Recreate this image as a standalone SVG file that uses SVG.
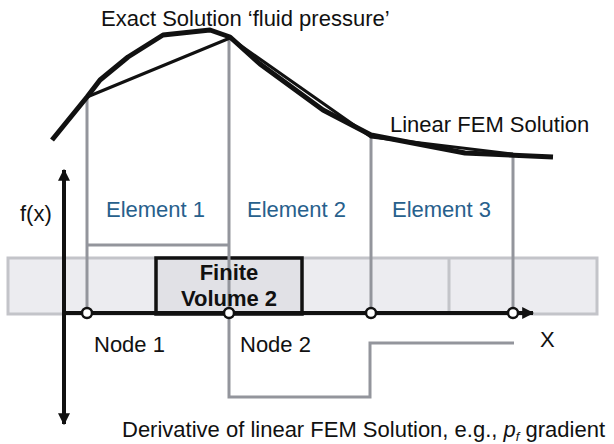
<svg xmlns="http://www.w3.org/2000/svg" width="614" height="444" viewBox="0 0 614 444">
<defs>
<style>
text{font-family:"Liberation Sans",Arial,sans-serif;fill:#111}
.lbl{font-size:22px}
.el{font-size:22px;fill:#27608c}
.fv{font-size:22px;font-weight:bold;text-anchor:middle}
.grid{fill:none;stroke:#93959c;stroke-width:3}
.band{fill:#ececf0;stroke:#c3c4c9;stroke-width:3}
.node{fill:#fff;stroke:#111;stroke-width:2.5}
.axis{stroke:#111;stroke-width:4;fill:none}
</style>
<marker id="ah" viewBox="0 0 10 10" refX="9" refY="5" markerWidth="3" markerHeight="3" markerUnits="strokeWidth" orient="auto">
<path d="M0,0L10,5L0,10z" fill="#111"/>
</marker>
</defs>
<g id="band">
<rect class="band" x="8" y="258" width="589" height="56"/>
<line x1="449" y1="258" x2="449" y2="314" stroke="#c3c4c9" stroke-width="3"/>
</g>
<g id="finite-volume-2">
<rect x="156" y="258" width="146" height="56" fill="#e1e1e6" stroke="#111" stroke-width="3.5"/>
</g>
<g id="connectors">
<path class="grid" d="M87,97V313M87,245H229M229,38V397H370V343H514M371,137V313M513,153V313"/>
<path d="M52,140L87,97L100,80L128,57L163,35L210,30L230,37L260,64L323,110L371,135L465,153L553,157" fill="none" stroke="#111" stroke-width="5" stroke-linejoin="round"/>
<path d="M87,97L230,38L371,137L513,154" fill="none" stroke="#111" stroke-width="3" stroke-linejoin="round"/>
<line class="axis" x1="64" y1="313" x2="533" y2="313" marker-end="url(#ah)"/>
<line class="axis" x1="64" y1="330" x2="64" y2="170" marker-end="url(#ah)"/>
<line class="axis" x1="64" y1="300" x2="64" y2="424" marker-end="url(#ah)"/>
</g>
<g id="node-1"><circle class="node" cx="87" cy="313" r="5"/><text class="lbl" x="94" y="352">Node 1</text></g>
<g id="node-2"><circle class="node" cx="229" cy="313" r="5"/><text class="lbl" x="240" y="352">Node 2</text></g>
<g id="node-3"><circle class="node" cx="371" cy="313" r="5"/></g>
<g id="node-4"><circle class="node" cx="513" cy="313" r="5"/></g>
<g id="fv-label"><text class="fv" x="229" y="280">Finite</text><text class="fv" x="229" y="306">Volume 2</text></g>
<g id="element-1"><text class="el" x="106" y="217">Element 1</text></g>
<g id="element-2"><text class="el" x="247" y="217">Element 2</text></g>
<g id="element-3"><text class="el" x="392" y="217">Element 3</text></g>
<g id="labels">
<text class="lbl" x="101" y="26">Exact Solution ‘fluid pressure’</text>
<text class="lbl" x="390" y="132">Linear FEM Solution</text>
<text class="lbl" x="20" y="221">f(x)</text>
<text class="lbl" x="540" y="347">X</text>
<text class="lbl" x="122" y="437">Derivative of linear FEM Solution, e.g., <tspan font-style="italic">p</tspan><tspan font-style="italic" font-size="13" dy="4">f</tspan><tspan dy="-4"> gradient</tspan></text>
</g>
</svg>
